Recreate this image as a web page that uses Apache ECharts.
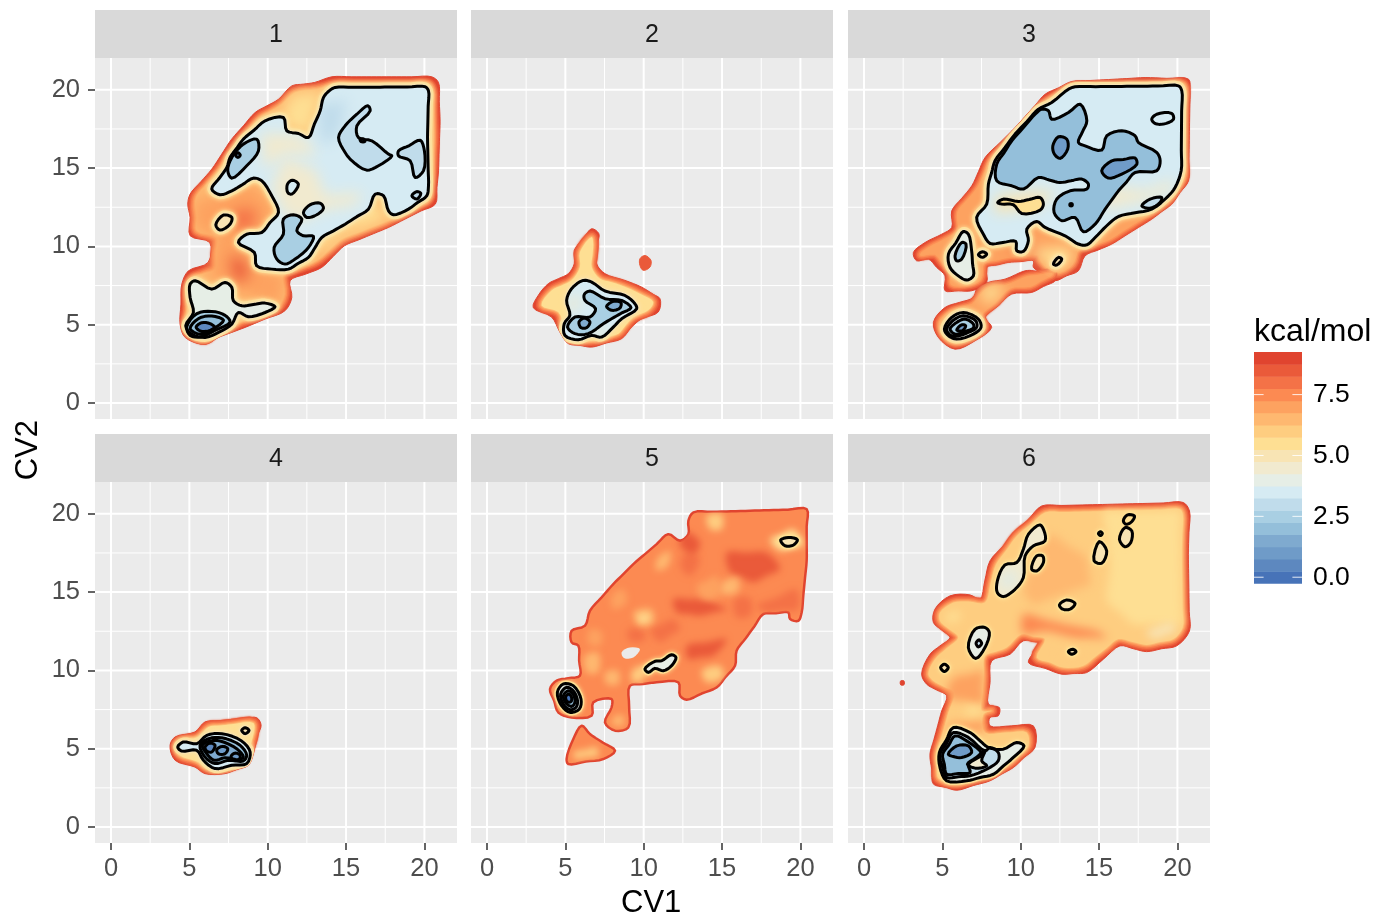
<!DOCTYPE html>
<html><head><meta charset="utf-8">
<style>html,body{margin:0;padding:0;background:#fff}#c{width:1377px;height:917px}</style>
<script src="https://cdn.jsdelivr.net/npm/echarts@6/dist/echarts.min.js"></script>
</head><body><div id="c"></div>
<script>
const panelNames = ['1','2','3','4','5','6'];
const majorTicks = [0,5,10,15,20];
const minorTicks = [2.5,7.5,12.5,17.5];
const legendTicks = [0,2.5,5,7.5];
const legendValues = [0,.5,1,1.5,2,2.5,3,3.5,4,4.5,5,5.5,6,6.5,7,7.5,8,8.5,9];
const palette = ['#4773B8','#5D88BF','#6F9BC8','#7FAACF','#94BFDA','#A9CFE3','#C0DCEB','#D6EBF3','#E6EEE6','#F1EACF','#F8E4B4','#FEDF93','#FECD80','#FEB870','#FDA260','#FC8A52','#F47247','#EA5A3A','#E0442F'];

/* each shape: [kcal/mol level, [cv1,cv2, cv1,cv2, ...]] */
const p1Outer = [[9,[14.09,20.83,20.47,20.83,20.9,20.47,21,18,20.9,14.83,20.7,12.7,19.8,12.27,17.7,11.21,14.9,10.04,13.45,8.66,11.43,7.81,11.54,6.74,11.1,5.89,8.56,4.83,6.86,4.19,6,3.75,4.73,4.19,4.41,5.04,4.52,7.59,4.94,8.44,6.2,8.98,6.3,10.25,5.05,10.68,5.05,11.85,4.9,12.7,5.05,13.34,6.43,14.93,7.7,16.85,9.2,18.55,10.7,19.4,11.54,20.25,13,20.47]]];
const p1Core = [[6.5,[14.3,20.36,20.26,20.36,20.5,19.93,20.58,16.95,20.47,14.6,20.26,13,19.5,12.59,17.7,11.64,14.73,10.47,13.13,9.08,11,8.23,11.07,6.95,10.7,6.21,8.45,5.25,6.75,4.61,6,4.08,5.15,4.4,4.83,5.04,4.94,7.38,5.26,8.02,6.64,8.55,6.75,10.57,5.47,11,5.47,11.85,5.37,12.7,5.47,13.23,6.86,14.83,8.13,16.64,9.5,18.23,10.9,19.08,11.75,19.83,13.13,20.04]]];
const p1Blobs = [
 [7,[5.37,12.81,8.98,13.98,10.47,12.27,9.41,11,8.13,10.36,9.09,8.87,11.11,8.02,10.69,6.21,8.13,7.17,6.32,8.02,6.64,10.57,5.37,11.21]],
 [8.5,[7.6,9.3,8.45,9.08,8.66,7.91,7.92,7.91]],
 [8,[7.92,12.27,9.2,12.27,8.98,11.21,7.92,11.21]],
 [5.5,[11.54,19.72,13.45,19.93,12.71,17.17,11.32,17.59,10.9,18.44]],
 [5.5,[16.54,13.02,17.71,11.85,15.15,10.79,13.45,9.72,13.03,10.15,14.94,11.21]]];
const p1Level1 = [
 [3.5,[13.92,19.93,14.3,20.15,20.05,20.19,20.26,19.93,20.2,16.95,20.26,13.87,20.15,13.23,18.98,12.38,18.03,12.02,17.71,12.27,17.39,13.23,16.86,13.34,16.43,12.38,14.94,11.42,13.45,10.57,12.6,9.3,11.32,8.55,10.26,8.55,9.3,8.76,9.15,9.61,8.13,10.25,8.66,10.78,9.62,10.89,10.69,12.17,10.26,13.23,9.62,14.19,9.09,14.36,7.71,13.55,6.96,13.3,6.43,13.66,7.39,15.04,7.6,15.68,8.45,16.85,9.84,18.02,11,18.23,11.22,17.38,11.96,17.21,12.6,16.95,13.35,18.66,13.56,19.51]],
 [5,[6.69,11.38,7.18,12,7.71,11.85,7.6,11.42,6.96,11.04]],
 [4,[5.05,7.59,5.37,7.81,6.43,7.27,7.28,7.7,7.71,7.38,7.81,6.53,8.35,6.21,9.83,6.38,10.47,6.15,9.83,5.78,8.77,5.51,8.13,5.78,7.71,5.04,6.86,4.51,6,4.19,5.15,4.4,4.77,4.93,5.26,5.78,5.05,6.74]]];
const p1Inner = [
 [4.5,[11.11,15.68,13.03,14.83,13.67,13.34,16,13.34,15.58,12.7,13.45,12.27,12.18,11.64,11.11,12.06,10.26,13.76]],
 [4.5,[9.62,17.17,11.43,17.17,12.49,16.74,13.03,15.89,11.11,15.89,9.83,15.04]],
 [3,[13.2,19,15,19.3,14.6,17.4,13.6,16.5,13.3,17.5]],
 [3.5,[5.6,7,7.2,6.8,7.3,5.6,6,5.5]]];
const p1Level2 = [
 [3,[16.39,18.98,16.54,18.66,15.69,17.7,15.79,16.95,16.64,16.74,17.71,15.89,17.92,15.78,17.07,15.15,16.32,14.87,15.37,15.47,14.94,16,14.52,16.95,14.94,17.7,15.69,18.44]],
 [2.5,[15.9,16.85,16.15,16.85,16.2,16.7,15.95,16.7]],
 [3,[18.35,16.1,19.73,16.78,20,16.1,19.94,14.83,19.41,14.4,19.09,15.47,18.35,15.78]],
 [3,[19.2,13.23,19.52,13.5,19.77,13.38,19.52,13.02]],
 [2.5,[9.3,16.85,9.41,16.1,8.66,15.15,7.71,14.36,7.45,14.83,7.71,15.68,8.45,16.53]],
 [1.5,[7.95,15.83,8.1,15.98,8.25,15.83,8.1,15.68]],
 [3.5,[11.26,13.97,11.58,14.23,11.96,13.97,11.54,13.34,11.28,13.44]],
 [3,[12.28,12.17,12.71,12.66,13.35,12.76,13.56,12.44,13.13,12.02,12.5,11.85]],
 [2.5,[11,11.74,11.64,12.02,12.18,11.74,11.86,11,12.28,10.68,12.92,10.64,12.6,9.93,11.75,9.19,11.11,8.87,10.58,9.19,10.41,9.93,11,10.78]],
 [2.5,[4.83,4.85,5.47,5.7,6.43,5.85,7.28,5.6,7.6,5.17,6.64,4.64,5.69,4.22,5.05,4.32]],
 [2,[5.05,4.75,5.58,5.39,6.43,5.56,7.18,5.28,6.54,4.75,5.69,4.39]],
 [0.5,[5.43,4.85,5.79,5.13,6.32,5.07,6.64,4.81,6.22,4.6,5.69,4.6]]];

const p2Outer = [
 [9,[6.68,11.13,7.14,10.81,7.06,10.17,7,8.89,7.53,8.26,8.8,7.83,9.87,7.4,10.61,6.94,11.04,6.66,10.93,5.81,9.87,5.38,9.23,4.85,8.59,4.11,6.68,3.57,5.19,3.79,4.65,4.53,4.12,5.49,2.95,6.09,3.27,6.87,3.91,7.62,5.19,8.26,5.57,8.89,5.57,9.75,6.14,10.49]],
 [8.5,[9.76,9.21,10.08,9.42,10.46,9.11,10.4,8.68,9.97,8.47,9.76,8.79]]];
const p2Core = [[5.5,[6.68,10.6,6.78,10.17,6.68,8.68,7.21,7.94,8.59,7.51,9.76,6.98,10.61,6.45,10.29,5.92,9.33,5.49,8.38,4.43,6.68,4,5.51,4.21,4.97,4.85,4.55,5.81,3.48,6.23,4.12,7.19,5.4,7.83,5.93,8.68,5.93,9.64]]];
const p2Blobs = [];
const p2Level1 = [[3.5,[6.14,7.83,6.68,7.72,7.53,7.15,8.8,6.87,9.44,6.34,9.55,6.02,8.59,5.38,8.06,4.85,7.31,4.21,6.68,4.32,5.82,4.04,4.97,4.32,4.93,5.06,5.29,5.6,5.08,6.55,5.4,7.3]]];
const p2Inner = [[4.5,[6.9,4.9,7.6,4.6,7.5,4.3,6.6,4.4]],[4.5,[5.1,6.3,5.6,6.9,6,6.7,5.4,5.7]]];
const p2Level2 = [
 [2.5,[6.21,6.94,6.57,7.15,7.53,6.66,8.59,6.55,9.19,6.09,7.95,5.38,7.42,5.06,6.46,4.43,5.61,4.43,5.14,4.85,5.61,5.49,6.57,5.49,6.93,6.02,6.25,6.55]],
 [1.5,[7.63,6.17,8.06,6.49,8.55,6.41,8.48,6.06,7.95,5.92]],
 [1.5,[5.87,5.17,6.21,5.43,6.57,5.17,6.36,4.81,6,4.81]]];

const p3Outer = [
 [9,[13.26,20.53,17.94,20.78,20.71,20.68,20.81,19.93,20.71,14.19,19.64,12.7,18.36,11.74,15.81,10.15,14.11,9.4,13.68,8.44,12.19,7.81,10.81,8.66,10.81,9.08,9.22,8.98,7.83,8.66,7.83,7.7,6.88,7.17,5.17,7.17,5.17,8.12,4.11,9.19,3.36,9.08,3.15,9.61,3.9,10.25,4.96,10.78,5.6,11.21,5.6,12.27,6.88,13.87,7.73,15.68,9.64,17.59,11.56,19.72]],
 [9,[10.81,8.44,12.19,7.81,10.7,7.06,9.43,6.96,7.73,5.47,8.15,4.83,7.09,3.98,5.81,3.44,4.75,4.19,4.43,5.15,5.17,6.1,6.98,6.74,7.19,7.27,7.94,7.7,9,7.91,10.28,8.44]]];
const p3Core = [
 [7,[13.36,20.15,20.39,20.32,20.39,14.4,19.43,13.02,18.15,12.06,15.6,10.47,13.68,9.83,13.26,8.87,12.19,8.34,11.34,9.08,11.13,9.51,9.22,9.34,7.62,8.98,7.41,7.91,6.66,7.59,5.6,7.59,5.6,8.34,4.53,9.55,3.64,9.47,4.22,9.93,5.28,10.47,6.02,11,6.02,12.17,7.3,13.76,8.11,15.46,9.96,17.27,11.77,19.3]],
 [7,[11.13,8.12,11.98,8.23,10.6,7.49,9.32,7.38,7.41,5.57,7.62,4.83,6.88,4.29,5.81,3.87,5.07,4.4,4.85,5.15,5.49,5.78,6.98,6.32,7.62,7.06,8.15,7.38,9.11,7.49,10.39,8.02]]];
const p3Blobs = [
 [5.5,[7.6,7.4,8.9,7.5,8.2,6.4,7.5,6.6]],
 [8,[9.6,10.3,11,9.9,11.5,9,10.8,9.5,9.6,9.6]],
 [5.5,[10.5,9.9,13.2,9.9,13.2,9,11.9,8.6]]];
const p3Level1 = [
 [3.5,[13.05,20.04,13.47,20.19,20.07,20.25,20.28,19.93,20.24,14.83,19.85,13.76,19.43,13.23,18.36,12.38,16.24,11.91,15.49,11.32,14.75,10.57,14.22,10.1,13.68,10.15,12.83,10.68,11.56,11.21,11.02,11.59,10.39,11.1,10.49,10.36,10.17,9.68,9.75,9.72,9.68,10.32,8.05,10.19,7.62,10.78,7.19,11.85,7.83,12.7,7.94,13.98,8.36,15.46,9.64,17.17,11.13,18.76,11.98,19.19]],
 [4,[5.39,9.51,6.34,10.95,6.66,10.78,6.87,9.72,6.98,8.12,6.56,7.85,6.02,8.12,5.49,8.66]],
 [5,[7.3,9.47,7.56,9.66,7.83,9.51,7.56,9.3]],
 [5,[12.09,8.87,12.41,9.3,12.62,9.19,12.3,8.81]],
 [4,[5.13,4.72,5.6,5.47,6.34,5.78,7.3,5.36,7.47,4.83,6.98,4.4,5.92,4.08,5.39,4.3]]];
const p3Inner = [[4.5,[14.5,14,18,13.6,19.6,14.2,19.8,13.7,18,12.9,15.5,12.4]],[5,[8.5,13.2,10.8,13.5,12.2,13.4,11,12.5,8.4,12.2]]];
const p3Level2 = [
 [2,[11.34,18.76,11.77,18.66,11.98,18.12,13.05,18.55,13.79,19.08,14.22,18.02,13.68,16.64,14.11,16.42,15.17,16.15,15.49,17.06,16.45,17.38,17.3,17.06,17.51,16.64,18.68,16,18.9,15.46,18.68,14.83,17.3,14.72,16.24,13.55,15.39,12.38,14.75,11.42,14,10.93,13.47,11.85,12.62,11.64,12.13,12.17,12.3,13.02,13.15,13.55,14.22,13.66,14.32,13.98,13.9,14.3,12.51,14.08,11.13,14.4,10.17,13.66,9.43,13.87,8.47,14.19,8.47,15.25,9.43,16.74,10.92,18.44]],
 [1,[12.05,16.42,12.41,17,12.94,16.85,13,16.21,12.51,15.62,12.15,15.89]],
 [1,[15.17,14.83,15.81,15.46,17.3,15.64,17.41,15.25,16.45,14.62,15.6,14.36]],
 [1,[13.15,12.72,13.28,12.72,13.28,12.6,13.15,12.6]],
 [3.5,[18.36,18.12,18.68,18.44,19.64,18.49,19.75,18.12,19.11,17.81,18.58,17.85]],
 [3,[17.73,12.59,18.26,13.02,19,13.12,18.9,12.81,18.26,12.44]],
 [5.5,[8.53,12.8,8.9,13.02,9.85,12.87,11.24,13.12,11.45,12.7,11.24,12.32,10.07,12.1,9.53,12.66,8.79,12.7]],
 [2.5,[5.81,9.4,6.24,10.25,6.51,10.15,6.24,9.19,5.92,9.08]],
 [3.5,[5.28,4.72,5.71,5.29,6.34,5.57,7.13,5.25,7.19,4.83,6.66,4.51,5.81,4.25,5.43,4.4]],
 [2.5,[5.49,4.72,5.92,5.15,6.45,5.36,6.98,5.04,6.98,4.79,6.45,4.57,5.81,4.4]],
 [1,[5.92,4.66,6.24,5,6.49,4.93,6.28,4.62]]];

const p4Outer = [[9,[3.77,5.22,4.09,5.75,5.36,6.07,6,6.71,7.7,6.85,9.3,6.98,9.58,6.49,9.3,5.75,9.09,4.68,8.77,3.94,7.28,3.41,6,3.41,5.36,3.83,4.09,4.26]]];
const p4Core = [[5.5,[4.19,5.22,4.41,5.49,5.58,5.75,6.22,6.39,7.7,6.56,9.09,6.64,9.09,5.96,8.77,4.9,8.45,4.26,7.17,3.79,6.11,3.79,5.58,4.15,4.41,4.58]]];
const p4Blobs = [];
const p4Level1 = [
 [3.5,[4.26,5.11,4.62,5.43,5.47,5.32,6.11,5.85,7.07,5.96,8.34,5.49,8.88,4.79,8.66,4.05,7.7,3.94,6.64,3.73,5.9,4.26,5.47,4.9,4.51,4.85]],
 [5,[8.34,6.17,8.56,6.34,8.81,6.17,8.56,5.96]]];
const p4Inner = [];
const p4Level2 = [
 [2,[5.68,5.22,6.22,5.64,7.07,5.7,8.24,5.22,8.66,4.58,8.45,4.22,7.49,4.26,6.64,4.05,6,4.47]],
 [1.5,[5.83,5.22,6.32,5.49,6.96,5.49,8.02,5,8.45,4.47,8.13,4.3,7.28,4.43,6.6,4.26,6.11,4.68]],
 [0.5,[6,5.11,6.32,5.36,6.64,5.22,6.43,4.79,6.11,4.85]],
 [1,[6.75,4.94,7.11,5.15,7.45,5,7.28,4.68,6.85,4.68]],
 [1,[7.66,4.51,7.92,4.72,8.24,4.58,8.17,4.3,7.81,4.26]]];

const p5Outer = [
 [7.5,[13.17,20.09,20.4,20.3,20.4,17,20.08,13.7,19.87,13.17,19.34,13.28,19.23,13.7,17.64,13.6,15.93,11.26,15.83,10.3,14.66,8.92,12.74,8.13,12.32,8.38,12.21,9.24,10.83,9.24,9.12,9.02,9.02,6.36,8.17,6.15,7.53,6.68,7.95,7.64,7.95,8.17,6.78,7.96,6.68,7.11,5.4,7,4.55,7.32,4.02,8.81,4.44,9.34,5.93,9.66,5.83,11.58,5.4,11.79,5.4,12.53,6.25,12.85,6.57,13.81,8.06,15.51,9.34,16.79,11.57,18.7,12.32,18.28,12.85,18.7,12.85,19.55]],
 [7.5,[6.04,6.47,6.57,5.94,8.17,4.87,7.42,4.34,5.19,4.02,5.08,4.34,5.51,5.62]]];
const p5Core = [];
const p5Blobs = [
 [8.5,[11.89,14.55,14.02,14.55,15.29,13.91,13.59,13.49,12.1,13.7]],
 [8.5,[15.29,17.53,17.85,17.53,18.7,16.47,17,15.62,15.51,16.26]],
 [8,[12.74,17.53,13.59,17.11,12.96,16.04,12.32,16.68]],
 [8,[17.21,14.13,19.76,15.19,19.87,13.91,17.85,13.7]],
 [8.5,[12.74,11.58,15.29,12,14.44,10.94,12.85,10.72]],
 [8,[10.4,12.64,11.89,13.28,12.32,12.64,11.04,11.79]],
 [8,[15.8,14.6,16.8,14.6,16.8,13.5,15.9,13.4]],
 [8,[9,12.6,10,12.6,10,11.9,9.1,11.9]],
 [8.5,[12.5,18.9,13.6,18.2,13.2,17.4,12.3,18]],
 [6.5,[9.34,13.7,10.51,13.91,10.62,13.06,9.76,12.85]],
 [5.5,[9.65,13.45,10.3,13.55,10.3,13.2,9.75,13.1]],
 [6,[13.7,9.98,14.87,10.3,15.08,9.55,14.02,9.24]],
 [6,[14.02,19.87,14.98,19.98,14.98,19.02,14.23,19.02]],
 [5.5,[18.06,18.38,19.55,19.02,20.19,17.96,18.7,17.64]],
 [6.5,[6.25,10.94,7.1,11.15,7.1,9.87,6.36,9.87]],
 [6.5,[7.53,9.87,8.38,9.98,8.38,9.13,7.64,9.13]],
 [7,[6.57,12.64,7.32,12.43,7.21,11.58,6.47,11.68]],
 [7,[7.95,14.77,8.7,15.19,8.91,14.34,8.06,13.91]],
 [6.5,[8.17,7.11,8.7,7.11,8.7,6.47,7.95,6.57]],
 [6,[5.51,4.77,7,5.09,7.1,4.55,5.61,4.34]],
 [6,[9.34,10.09,10.4,10.3,9.76,9.24,9.23,9.34]],
 [7,[13.38,15.4,14.66,16.04,14.87,14.77,13.8,14.55]],
 [6.5,[15,15.6,16,15.9,16,15,15,14.9]],
 [6.5,[10.9,17.2,11.7,17.6,11.5,16.6,10.8,16.4]]];
const p5Holes = [[8.59,11.15,9.12,11.47,9.76,11.36,9.34,10.83,8.74,10.79]];
const p5Level1 = [
 [4,[10.08,10.09,10.72,10.58,11.15,10.62,11.78,11,12.06,10.83,11.78,10.3,11.25,9.98,10.72,10.13,10.3,9.87]],
 [5,[18.74,18.32,19.23,18.49,19.81,18.34,19.55,18,19.02,17.96]],
 [4,[4.49,8.6,4.87,9.13,5.51,9.02,6,8.17,5.89,7.53,5.3,7.32,4.76,7.75]]];
const p5Inner = [];
const p5Level2 = [
 [3,[4.7,8.49,5.08,8.92,5.51,8.7,5.78,8.06,5.68,7.64,5.3,7.49,4.87,7.85]],
 [2,[4.87,8.38,5.19,8.7,5.51,8.45,5.61,7.96,5.4,7.7,5.04,7.91]],
 [0,[5.02,8.32,5.23,8.49,5.4,8.28,5.36,8,5.12,8]]];

const p6Outer = [
 [9,[11.34,20.5,20.38,20.72,20.77,20.18,20.7,17.42,20.77,12.52,19.96,11.57,18.04,11.2,16.34,11.57,14.21,9.86,12.62,9.76,10.49,10.5,11.13,11.78,10.17,11.89,9.32,11.03,8.15,10.61,7.94,7.84,8.64,7.63,8.57,7.1,8.04,7,8.04,6.46,10.81,6.46,10.91,5.08,9.53,3.8,8.04,2.95,5.92,2.35,4.43,2.74,4.21,4.65,4.96,7.42,5.28,8.38,4,9.12,3.68,9.76,4.21,11.03,5.49,12.1,4.43,13.06,4.53,13.91,5.49,14.76,6.77,14.82,7.4,14.54,8.04,16.99,9.75,18.91]],
 [9,[2.34,9.33,2.55,9.33,2.55,9.08,2.34,9.08]]];
const p6Core = [[6,[11.55,20.08,20.17,20.29,20.34,19.97,20.28,17.31,20.34,12.74,19.75,12,18.04,11.63,16.23,12,14,10.29,12.72,10.18,11.02,10.82,11.55,12,10.06,12.31,9.11,11.46,7.72,10.93,7.51,7.42,8.15,7.42,7.62,7.2,7.72,6.03,10.38,6.03,10.49,5.18,9.32,4.12,7.94,3.37,5.92,2.78,4.74,3.12,4.64,4.65,5.38,7.31,5.75,8.59,4.43,9.33,4.11,9.76,4.53,10.72,6.02,12.1,4.85,13.16,4.85,13.69,5.7,14.33,6.66,14.4,7.72,14.33,8.43,16.78,9.75,18.59]]];
const p6Blobs = [
 [5.5,[15.28,20.18,20.17,20.18,20.28,12.95,17.19,12.95,15.49,14.44,15.7,16.78]],
 [6.5,[11.87,18.7,14.21,17.2,14.43,15.5,12.72,14.86,10.81,14.23,10.17,15.08,10.81,17.2]],
 [7.5,[10.17,13.59,12.72,12.95,14.85,12.52,15.49,12.1,13.57,12.1,11.66,12.52,10.17,12.31]],
 [7,[5.7,9.55,7.6,9.97,7.6,7.84,5.28,8.27]],
 [7,[5.49,6.57,7.7,6.78,7.7,6.14,5.28,5.93]],
 [5.5,[6.5,7.65,7.5,7.65,7.5,7.25,6.5,7.25]],
 [5.5,[5.17,13.48,6.02,13.8,6.13,13.27,5.38,13.06]],
 [5,[18.04,12.52,19.53,13.06,19.96,12.52,18.47,12]],
 [6,[12.3,11.35,14.21,11.46,14.21,10.72,12.51,10.61]]];
const p6Level1 = [
 [4.5,[8.51,15.71,9,16.74,9.75,16.89,10.17,17.74,10.49,18.69,11.23,19.29,11.49,18.91,11.55,18.27,10.81,17.95,10.28,17.31,10.17,15.93,9.64,15.18,8.89,14.71,8.51,14.97]],
 [5,[10.7,16.46,11.02,17.31,11.4,17.31,11.45,16.89,11.02,16.35]],
 [5,[12.47,14.18,12.94,14.5,13.47,14.27,13.15,13.91,12.68,13.91]],
 [4,[6.66,11.46,7.09,12.63,7.72,12.74,8,12.42,7.72,11.46,7.13,10.76]],
 [5,[4.89,10.18,5.13,10.4,5.38,10.18,5.13,9.93]],
 [5,[13.04,11.2,13.32,11.35,13.53,11.2,13.26,11.03]],
 [5,[14.96,18.74,15.09,18.86,15.21,18.74,15.09,18.61]],
 [5,[14.68,17,15.02,18.23,15.49,17.63,15.17,16.84]],
 [5,[16.3,18.37,16.66,19.12,17.09,18.91,17.02,18.16,16.66,17.89]],
 [5.5,[16.55,19.55,16.81,19.93,17.26,19.86,17.09,19.5,16.72,19.33]],
 [4,[4.81,4.76,5.7,6.35,6.77,6.03,7.94,5.08,8.89,4.97,9.75,5.4,10.21,5.18,9.53,4.44,8.26,3.37,6.55,2.95,5.28,2.95,4.85,3.8]]];
const p6Inner = [[3.5,[8.79,15.93,9.53,16.25,9.64,15.71,9,15.29]]];
const p6Level2 = [
 [3,[4.85,4.65,5.7,6.03,6.66,5.72,7.72,4.86,8.04,5.08,8.57,4.76,8.57,4.23,7.83,3.69,6.77,3.27,5.28,3.16,5.02,3.8]],
 [2,[5.02,4.65,5.81,5.82,6.55,5.5,7.51,4.65,6.66,4.01,6.77,3.48,5.28,3.37,5.13,4]],
 [4.5,[6.6,4.01,7.72,4.86,7.51,4.23,7.83,3.91,7.09,3.76]],
 [1,[5.38,4.65,5.92,5.18,6.66,5.18,6.87,4.76,6.23,4.44,5.7,4.5]],
 [3,[7.15,11.74,7.34,11.95,7.51,11.72,7.3,11.5]]];

const panels = [
 {outer:p1Outer,core:p1Core,blobs:p1Blobs,level1:p1Level1,inner:p1Inner,level2:p1Level2,holes:[]},
 {outer:p2Outer,core:p2Core,blobs:p2Blobs,level1:p2Level1,inner:p2Inner,level2:p2Level2,holes:[]},
 {outer:p3Outer,core:p3Core,blobs:p3Blobs,level1:p3Level1,inner:p3Inner,level2:p3Level2,holes:[]},
 {outer:p4Outer,core:p4Core,blobs:p4Blobs,level1:p4Level1,inner:p4Inner,level2:p4Level2,holes:[]},
 {outer:p5Outer,core:p5Core,blobs:p5Blobs,level1:p5Level1,inner:p5Inner,level2:p5Level2,holes:p5Holes},
 {outer:p6Outer,core:p6Core,blobs:p6Blobs,level1:p6Level1,inner:p6Inner,level2:p6Level2,holes:[]}
];

const colX = [95,471,848], rowY = [58,482], W = 362, H = 361, STRIP = 48;
const xRange = [-1.02,22.08], yRange = [-1.02,22.03];
const color = v => palette[Math.round(v*2)];
const coreHalos = [[11,8.5],[8,8],[5,7.5],[2,7]];
const levelHalos = [[9,5.5],[5,5]];
const blobBlur = [14,14,14,14,7,10];
const OFF = 3000, MAXSEG = 22, LINE = 3;

/* pixel outline of a closed shape, rounded with a centripetal spline for drawing only */
function outline(api,flat){
  const R=[];
  for(let i=0;i<flat.length;i+=2) R.push(api.coord([flat[i],flat[i+1]]));
  const P=[];
  R.forEach((a,i)=>{
    const b=R[(i+1)%R.length],len=Math.hypot(a[0]-b[0],a[1]-b[1]),k=Math.ceil(len/MAXSEG);
    for(let j=0;j<k;j++) P.push([a[0]+(b[0]-a[0])*j/k,a[1]+(b[1]-a[1])*j/k]);
  });
  const n=P.length,out=[],STEPS=4;
  const dist=(a,b)=>Math.sqrt(Math.max(Math.hypot(a[0]-b[0],a[1]-b[1]),1e-3));
  for(let i=0;i<n;i++){
    const p0=P[(i-1+n)%n],p1=P[i],p2=P[(i+1)%n],p3=P[(i+2)%n];
    const t0=0,t1=t0+dist(p0,p1),t2=t1+dist(p1,p2),t3=t2+dist(p2,p3);
    for(let s=0;s<STEPS;s++){
      const t=t1+(t2-t1)*s/STEPS,pt=[];
      for(let d=0;d<2;d++){
        const A1=(t1-t)/(t1-t0)*p0[d]+(t-t0)/(t1-t0)*p1[d];
        const A2=(t2-t)/(t2-t1)*p1[d]+(t-t1)/(t2-t1)*p2[d];
        const A3=(t3-t)/(t3-t2)*p2[d]+(t-t2)/(t3-t2)*p3[d];
        const B1=(t2-t)/(t2-t0)*A1+(t-t0)/(t2-t0)*A2;
        const B2=(t3-t)/(t3-t1)*A2+(t-t1)/(t3-t1)*A3;
        pt.push((t2-t)/(t2-t1)*B1+(t-t1)/(t2-t1)*B2);
      }
      out.push(pt);
    }
  }
  return out;
}
function inside(x,y,flat){
  let c=false;
  for(let i=0,j=flat.length-2;i<flat.length;j=i,i+=2){
    const xi=flat[i],yi=flat[i+1],xj=flat[j],yj=flat[j+1];
    if((yi>y)!==(yj>y)&&x<(xj-xi)*(y-yi)/(yj-yi)+xi) c=!c;
  }
  return c;
}
function hostOf(p,flat){
  let sx=0,sy=0;
  for(let i=0;i<flat.length;i+=2){sx+=flat[i];sy+=flat[i+1];}
  sx/=flat.length/2;sy/=flat.length/2;
  const hit=p.outer.filter(o=>inside(sx,sy,o[1]));
  return (hit.length?hit[hit.length-1]:p.outer[0])[1];
}
function buildLayers(p,idx){
  const L=[];
  const edgeOnly=idx===4;
  p.outer.forEach(s=>L.push({pts:s[1],style:edgeOnly?{fill:color(s[0]),stroke:color(9),lineWidth:2.5}:{fill:color(s[0]),stroke:color(s[0]),lineWidth:1}}));
  p.core.forEach(s=>coreHalos.forEach(h=>L.push({pts:s[1],style:{fill:'none',stroke:color(h[1]),lineWidth:h[0],shadowBlur:2,shadowColor:color(h[1])}})));
  p.core.forEach(s=>L.push({pts:s[1],style:{fill:color(s[0]),shadowBlur:3,shadowColor:color(s[0])}}));
  p.blobs.forEach(s=>L.push({pts:s[1],blur:blobBlur[idx],fill:color(s[0]),clip:hostOf(p,s[1])}));
  p.holes.forEach(h=>L.push({pts:h,style:{fill:'#EBEBEB'}}));
  if(!edgeOnly&&idx!==5) p.level1.forEach(s=>levelHalos.forEach(h=>L.push({pts:s[1],clip:hostOf(p,s[1]),style:{fill:'none',stroke:color(h[1]),lineWidth:h[0],shadowBlur:5,shadowColor:color(h[1])}})));
  if(edgeOnly||idx===5) p.level1.forEach(s=>L.push({pts:s[1],clip:hostOf(p,s[1]),style:{fill:'none',stroke:color(5.5),lineWidth:6,shadowBlur:4,shadowColor:color(5.5)}}));
  p.level1.forEach(s=>L.push({pts:s[1],style:{fill:color(s[0])}}));
  p.inner.forEach(s=>L.push({pts:s[1],blur:14,fill:color(s[0]),clip:p.level1[0][1]}));
  p.level2.forEach(s=>L.push({pts:s[1],style:{fill:color(s[0])}}));
  p.level1.concat(p.level2).forEach(s=>L.push({pts:s[1],style:{fill:'none',stroke:'#000',lineWidth:LINE}}));
  return L;
}
function draw(api,l){
  const pts=outline(api,l.pts);
  const el={type:'polygon',shape:{points:pts},style:Object.assign({lineJoin:'round'},l.style||{})};
  if(l.blur){
    el.shape.points=pts.map(q=>[q[0]-OFF,q[1]]);
    el.style={fill:l.fill,shadowBlur:l.blur,shadowColor:l.fill,shadowOffsetX:OFF};
  }
  if(l.clip) el.clipPath={type:'polygon',shape:{points:outline(api,l.clip)}};
  return el;
}

const grid=[],xAxis=[],yAxis=[],series=[],graphic=[];
const labelFont={color:'#4D4D4D',fontSize:25.5,fontFamily:'Liberation Sans'};
panelNames.forEach((name,i)=>{
  const c=i%3,r=Math.floor(i/3);
  grid.push({left:colX[c],top:rowY[r],width:W,height:H,show:true,backgroundColor:'#EBEBEB',borderWidth:0});
  xAxis.push({type:'value',gridIndex:i,min:xRange[0],max:xRange[1],splitLine:{show:false},position:'bottom',axisLine:{show:false,onZero:false},
    axisTick:{show:r===1,customValues:majorTicks,length:7,lineStyle:{color:'#333',width:1.5}},
    axisLabel:Object.assign({show:r===1,customValues:majorTicks,margin:13},labelFont)});
  yAxis.push({type:'value',gridIndex:i,min:yRange[0],max:yRange[1],splitLine:{show:false},position:'left',axisLine:{show:false,onZero:false},
    axisTick:{show:c===0,customValues:majorTicks,length:7,lineStyle:{color:'#333',width:1.5}},
    axisLabel:Object.assign({show:c===0,customValues:majorTicks,margin:15,padding:[7,0,0,0]},labelFont)});
  const rules=[];
  minorTicks.forEach(t=>{rules.push([t,'x',1]);rules.push([t,'y',1]);});
  majorTicks.forEach(t=>{rules.push([t,'x',2]);rules.push([t,'y',2]);});
  series.push({type:'custom',xAxisIndex:i,yAxisIndex:i,silent:true,clip:false,z:1,data:rules.map(()=>[0,0]),
    renderItem:(params,api)=>{
      const g=rules[params.dataIndex];
      const a=g[1]==='x'?api.coord([g[0],yRange[0]]):api.coord([xRange[0],g[0]]);
      const b=g[1]==='x'?api.coord([g[0],yRange[1]]):api.coord([xRange[1],g[0]]);
      return {type:'line',shape:{x1:a[0],y1:a[1],x2:b[0],y2:b[1]},style:{stroke:'#fff',lineWidth:g[2]}};
    }});
  const layers=buildLayers(panels[i],i);
  series.push({type:'custom',xAxisIndex:i,yAxisIndex:i,silent:true,clip:true,z:2,animation:false,data:layers.map(()=>[0,0]),
    renderItem:(params,api)=>draw(api,layers[params.dataIndex])});
  graphic.push({type:'rect',left:colX[c],top:rowY[r]-STRIP,shape:{width:W,height:STRIP},style:{fill:'#D9D9D9'},silent:true});
  graphic.push({type:'text',left:colX[c]+W/2-7,top:rowY[r]-STRIP+13,style:{text:name,fill:'#1A1A1A',font:'25px "Liberation Sans"'},silent:true});
});

/* colour bar */
const LG=6;
grid.push({left:1254,top:352,width:48,height:231.3,show:false});
xAxis.push({type:'value',gridIndex:LG,min:0,max:1,show:false});
yAxis.push({type:'value',gridIndex:LG,min:-0.25,max:9.25,position:'right',splitLine:{show:false},axisLine:{show:false},axisTick:{show:false},
  axisLabel:{customValues:legendTicks,margin:11,padding:[14,0,0,0],formatter:v=>v.toFixed(1),color:'#000',fontSize:26.5,fontFamily:'Liberation Sans'}});
series.push({type:'custom',xAxisIndex:LG,yAxisIndex:LG,silent:true,clip:false,data:legendValues.map(v=>[0,v]),
  renderItem:(params,api)=>{
    const v=legendValues[params.dataIndex];
    const a=api.coord([0,v+0.25]),b=api.coord([1,v-0.25]);
    return {type:'rect',shape:{x:a[0],y:a[1],width:b[0]-a[0],height:b[1]-a[1]+0.5},style:{fill:color(v)}};
  }});
series.push({type:'custom',xAxisIndex:LG,yAxisIndex:LG,silent:true,clip:false,z:3,data:legendTicks.flatMap(t=>[[t,0],[t,1]]),
  renderItem:(params,api)=>{
    const t=api.value(0),side=api.value(1);
    const p=api.coord([side,t]);
    const d=side===0?9.6:-9.6;
    return {type:'line',shape:{x1:p[0],y1:p[1],x2:p[0]+d,y2:p[1]},style:{stroke:'#fff',lineWidth:1,opacity:0.85}};
  },encode:{x:1,y:0}});

graphic.push({type:'text',left:1254,top:316,style:{text:'kcal/mol',fill:'#000',font:'32px "Liberation Sans"'},silent:true});
graphic.push({type:'text',left:621,top:888,style:{text:'CV1',fill:'#000',font:'31px "Liberation Sans"'},silent:true});
graphic.push({type:'text',left:13,top:420,rotation:Math.PI/2,style:{text:'CV2',fill:'#000',font:'31px "Liberation Sans"'},silent:true});

const chart=echarts.init(document.getElementById('c'),null,{renderer:'canvas'});
chart.setOption({animation:false,backgroundColor:'#fff',grid,xAxis,yAxis,series,graphic});
</script></body></html>
